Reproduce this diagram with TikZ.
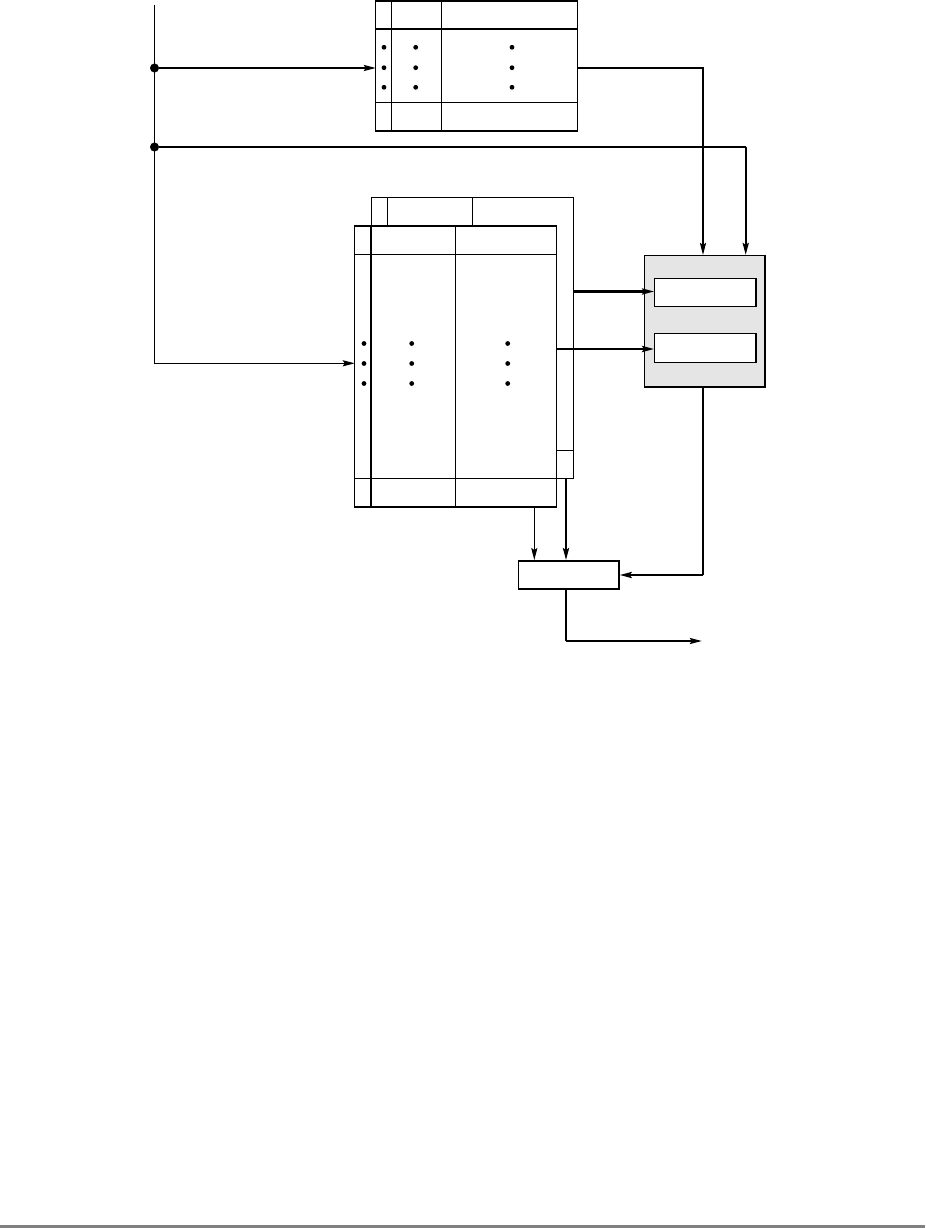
\documentclass[tikz,border=0pt]{standalone}
\usetikzlibrary{arrows.meta}
\definecolor{panel}{HTML}{E5E5E5}
\definecolor{rulegray}{HTML}{808080}

\begin{document}
\begin{tikzpicture}[x=0.75pt,y=-0.75pt,
  thinline/.style={line width=0.8pt},
  thickline/.style={line width=1.6pt},
  frame/.style={line width=1.1pt},
  tip/.style={-{Stealth[length=9pt,width=4.6pt,inset=1.5pt]}},
  regbox/.style={draw,line width=1.1pt,fill=white,inner sep=0pt,minimum width=76pt},
  junction/.style={circle,fill,inner sep=0pt,minimum size=6.8pt}]
  \useasboundingbox (0,0) rectangle (925,1228);
  \fill[rulegray] (0,1225) rectangle (925,1228);

  % Small table at the top, with its three rows of dots.
  \draw[frame] (375.7,1) rectangle (577.3,131);
  \draw[frame] (375.7,29) -- (577.3,29) (375.7,102.7) -- (577.3,102.7) (391.7,1) -- (391.7,131);
  \draw[thinline] (441.3,1) -- (441.3,131);
  \foreach \y in {47.3,67.7,87.3}
    \foreach \x in {384,415.7,512}
      \fill (\x,\y) circle (1.8pt);
  \coordinate (topIn) at (375.7,68);
  \coordinate (topOut) at (577.3,68);

  % Stacked table: the back copy first, the front copy drawn over it.
  \draw[frame] (371.7,197.7) rectangle (573.3,478.7);
  \draw[frame] (387.7,197.7) -- (387.7,226);
  \draw[thinline] (472.3,197.7) -- (472.3,226) (556.7,450.3) -- (573.3,450.3);
  \draw[frame,fill=white] (354.7,226) rectangle (556.7,507);
  \draw[frame] (354.7,254.3) -- (556.7,254.3) (354.7,478.7) -- (556.7,478.7) (371,226) -- (371,507);
  \draw[thinline] (455.3,226) -- (455.3,507);
  \foreach \y in {343.5,363.5,383.5}
    \foreach \x in {364,411.7,507.7}
      \fill (\x,\y) circle (1.8pt);
  \coordinate (frontIn) at (354.7,363.3);
  \coordinate (backOut) at (573.3,291.5);
  \coordinate (frontOut) at (556.7,349);
  \coordinate (frontDown) at (534.3,507);
  \coordinate (backDown) at (566,478.7);

  % Shaded unit holding two registers.
  \node[draw,line width=1.1pt,fill=panel,inner sep=0pt,minimum width=90.5pt,minimum height=98.5pt] (unit) at (704.7,321.3) {};
  \node[regbox,minimum height=21.3pt] (regA) at (705.4,292.5) {};
  \node[regbox,minimum height=21.7pt] (regB) at (705.4,347.8) {};

  % Selector below the stacked table.
  \node[draw,line width=1.1pt,inner sep=0pt,minimum width=75.5pt,minimum height=21.2pt] (mux) at (568.7,574.9) {};

  % Bus on the left and its taps.
  \coordinate (busTop) at (154.5,5);
  \node[junction] (tapA) at (154.5,68) {};
  \node[junction] (tapB) at (154.5,147) {};
  \coordinate (bendB) at (745.7,147);
  \coordinate (bendTop) at (703,68);
  \coordinate (bendUnit) at (703,575);
  \coordinate (outBend) at (566,641);
  \coordinate (outEnd) at (701.7,641);

  \draw[thinline,tip] (busTop) |- (frontIn);
  \draw[thinline,tip] (tapA) -- (topIn);
  \draw[thinline] (tapB) -- (bendB);
  \draw[thickline,tip] (bendB) -- (bendB |- unit.north);
  \draw[thinline,tip] (topOut) -| (bendTop |- unit.north);

  % Register feeds and the paths into the selector.
  \draw[thickline,tip] (backOut) -- (backOut -| regA.west);
  \draw[thickline,tip] (frontOut) -- (frontOut -| regB.west);
  \draw[thinline] (bendTop |- unit.south) -- (bendUnit);
  \draw[thickline,tip] (bendUnit) -- (bendUnit -| mux.east);
  \draw[thinline,tip] (frontDown) -- (frontDown |- mux.north);
  \draw[thickline,tip] (backDown) -- (backDown |- mux.north);
  \draw[thickline] (backDown |- mux.south) -- (outBend);
  \draw[thinline,tip] (outBend) -- (outEnd);
\end{tikzpicture}
\end{document}
